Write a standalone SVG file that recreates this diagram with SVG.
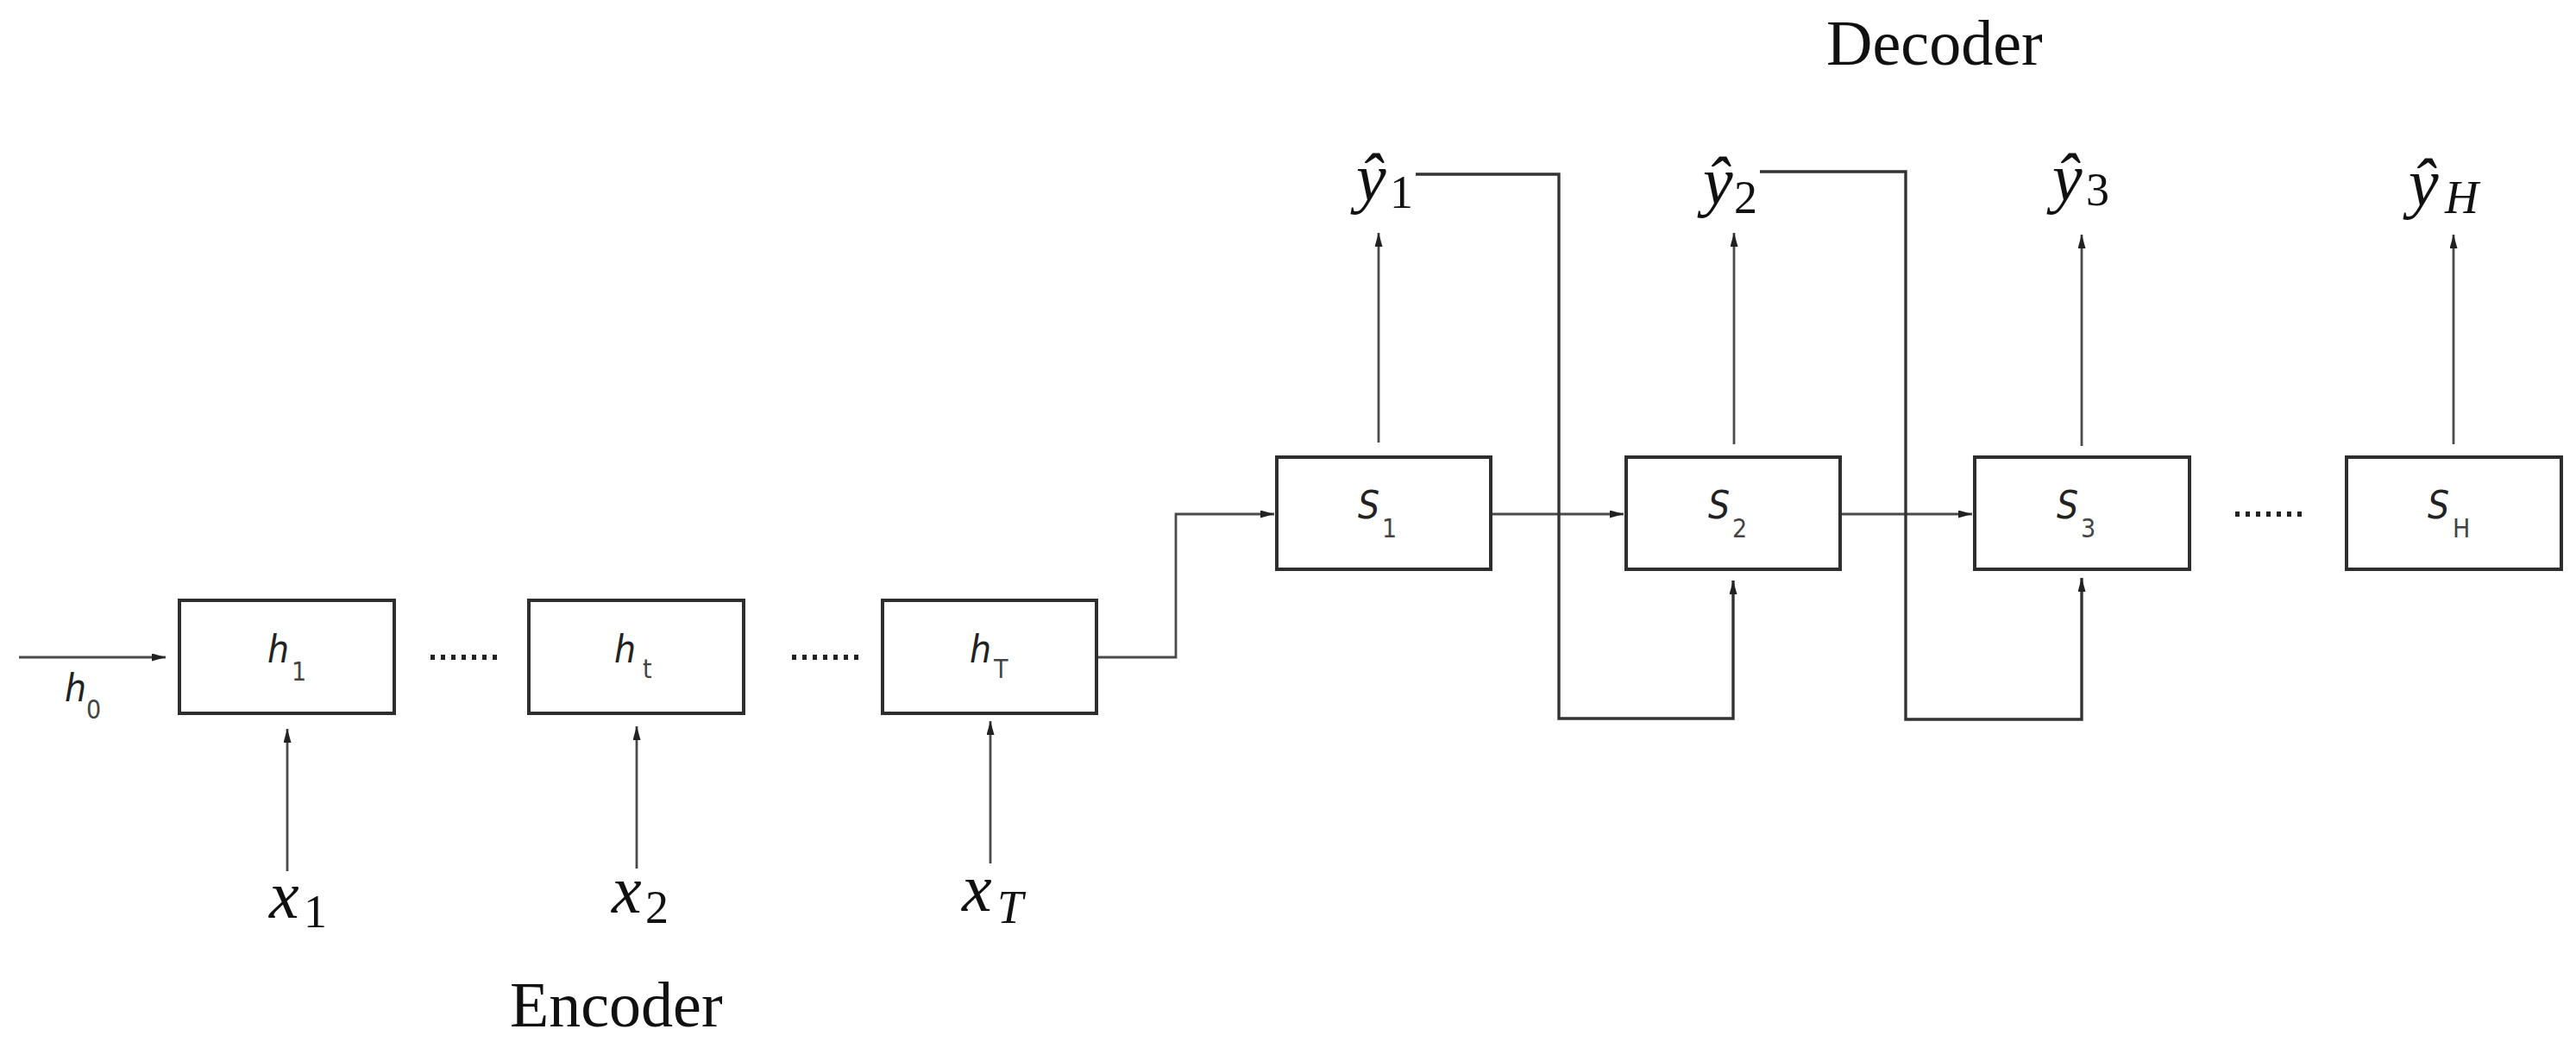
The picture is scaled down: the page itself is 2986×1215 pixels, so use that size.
<svg xmlns="http://www.w3.org/2000/svg" width="2986" height="1215" viewBox="0 0 2986 1215">
<defs>
<marker id="ah" markerUnits="userSpaceOnUse" markerWidth="18" markerHeight="10" refX="16" refY="4.5" orient="auto">
<path d="M0,0 L16,4.5 L0,9 z" fill="#222"/>
</marker>
<style>
.box{fill:#fff;stroke:#2e2e2e;stroke-width:4}
.ln{fill:none;stroke:#4a4a4a;stroke-width:2.8}
.fb{fill:none;stroke:#333;stroke-width:3.4}
.dots{stroke:#222;stroke-width:6;stroke-dasharray:5 7}
.nl{font-family:"DejaVu Sans Condensed","DejaVu Sans",sans-serif;font-style:italic;font-size:44px;fill:#222}
.ns{font-family:"DejaVu Sans Condensed","DejaVu Sans",sans-serif;font-style:normal;font-size:30px;fill:#444}
.m{font-family:"Liberation Serif",serif;font-style:italic;font-size:78px;fill:#111}
.sub{font-family:"Liberation Serif",serif;font-style:normal;font-size:54px;fill:#111}
.subi{font-family:"Liberation Serif",serif;font-style:italic;font-size:54px;fill:#111}
.title{font-family:"Liberation Serif",serif;font-size:74px;fill:#111}
</style>
</defs>
<rect width="2986" height="1215" fill="#fff"/>

<g id="connectors">
<line class="ln" x1="22" y1="762" x2="192" y2="762" marker-end="url(#ah)"/>
<line class="ln" x1="333" y1="1010" x2="333" y2="845" marker-end="url(#ah)"/>
<line class="ln" x1="738" y1="1007" x2="738" y2="842" marker-end="url(#ah)"/>
<line class="ln" x1="1148" y1="1001" x2="1148" y2="836" marker-end="url(#ah)"/>
<polyline class="ln" points="1271,762 1363,762 1363,596 1477,596" marker-end="url(#ah)"/>
<line class="ln" x1="1728" y1="596" x2="1882" y2="596" marker-end="url(#ah)"/>
<line class="ln" x1="2133" y1="596" x2="2286" y2="596" marker-end="url(#ah)"/>
<line class="ln" x1="1598" y1="513" x2="1598" y2="270" marker-end="url(#ah)"/>
<line class="ln" x1="2010" y1="515" x2="2010" y2="270" marker-end="url(#ah)"/>
<line class="ln" x1="2413" y1="517" x2="2413" y2="272" marker-end="url(#ah)"/>
<line class="ln" x1="2844" y1="515" x2="2844" y2="272" marker-end="url(#ah)"/>
<polyline class="fb" points="1641,202 1807,202 1807,833 2009,833 2009,673" marker-end="url(#ah)"/>
<polyline class="fb" points="2040,199 2209,199 2209,834 2413,834 2413,670" marker-end="url(#ah)"/>
</g>

<g id="ellipses">
<line class="dots" x1="499" y1="762" x2="578" y2="762"/>
<line class="dots" x1="918" y1="762" x2="997" y2="762"/>
<line class="dots" x1="2591" y1="596" x2="2672" y2="596"/>
</g>

<g id="h0-label">
<text class="nl" x="75" y="813">h<tspan class="ns" x="100" y="833">0</tspan></text>
</g>

<g id="node-h1">
<rect class="box" x="208" y="696" width="249" height="131"/>
<text class="nl" x="310" y="768">h<tspan class="ns" x="338" y="789">1</tspan></text>
</g>
<g id="node-ht">
<rect class="box" x="613" y="696" width="249" height="131"/>
<text class="nl" x="712" y="768">h<tspan class="ns" x="745" y="786">t</tspan></text>
</g>
<g id="node-hT">
<rect class="box" x="1023" y="696" width="248" height="131"/>
<text class="nl" x="1124" y="768">h<tspan class="ns" x="1152" y="786">T</tspan></text>
</g>

<g id="node-s1">
<rect class="box" x="1480" y="530" width="248" height="130"/>
<text class="nl" x="1574" y="601">S<tspan class="ns" x="1602" y="623">1</tspan></text>
</g>
<g id="node-s2">
<rect class="box" x="1885" y="530" width="248" height="130"/>
<text class="nl" x="1980" y="601">S<tspan class="ns" x="2008" y="623">2</tspan></text>
</g>
<g id="node-s3">
<rect class="box" x="2289" y="530" width="249" height="130"/>
<text class="nl" x="2384" y="601">S<tspan class="ns" x="2412" y="623">3</tspan></text>
</g>
<g id="node-sH">
<rect class="box" x="2720" y="530" width="249" height="130"/>
<text class="nl" x="2814" y="601">S<tspan class="ns" x="2843" y="623">H</tspan></text>
</g>

<g id="inputs">
<text class="m" x="312" y="1064">x<tspan class="sub" x="352" y="1075">1</tspan></text>
<text class="m" x="709" y="1058">x<tspan class="sub" x="748" y="1070">2</tspan></text>
<text class="m" x="1115" y="1056">x<tspan class="subi" x="1156" y="1070">T</tspan></text>
</g>

<g id="outputs">
<text class="m" x="1572" y="232">ŷ<tspan class="sub" x="1611" y="241">1</tspan></text>
<text class="m" x="1974" y="236">ŷ<tspan class="sub" x="2010" y="247">2</tspan></text>
<text class="m" x="2379" y="232">ŷ<tspan class="sub" x="2418" y="238">3</tspan></text>
<text class="m" x="2792" y="238">ŷ<tspan class="subi" x="2834" y="247">H</tspan></text>
</g>

<g id="titles">
<text class="title" x="2117" y="75">Decoder</text>
<text class="title" x="591" y="1190">Encoder</text>
</g>
</svg>
